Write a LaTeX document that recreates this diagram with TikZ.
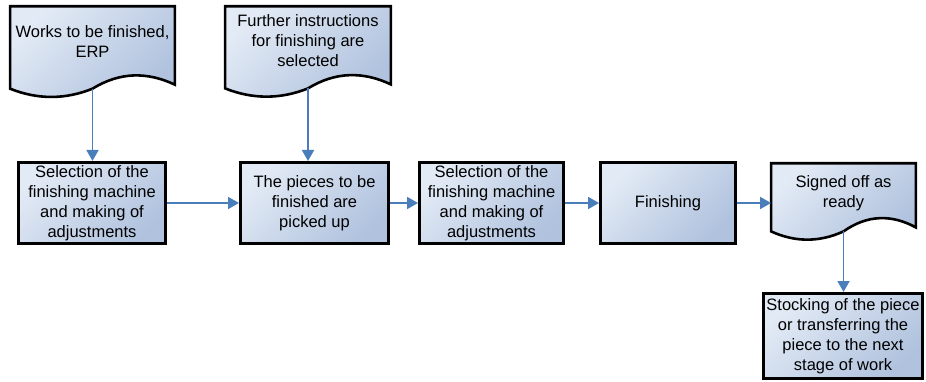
\documentclass[tikz,border=0pt]{standalone}
\usepackage{fontspec}
\setmainfont{Liberation Sans}
\usetikzlibrary{arrows.meta,calc}
\pgfdeclarelayer{background}
\pgfsetlayers{background,main}
\definecolor{boxlight}{RGB}{226,234,245}
\definecolor{boxdark}{RGB}{176,194,222}
\definecolor{flow}{RGB}{74,126,187}
\tikzset{
  txt/.style={font=\fontsize{16.5}{20}\selectfont, align=center, inner sep=0pt},
  shadefill/.style={top color=boxlight, bottom color=boxdark, shading angle=45},
  stepbox/.style={txt, rectangle, draw=black, line width=2.6pt, shadefill},
  doc/.style={txt, rectangle, anchor=north},
  docbody/.style={draw=black, line width=2.6pt, line join=miter, shadefill},
  flowarrow/.style={draw=flow, line width=1.8pt, -{Triangle[length=11pt,width=12pt]}},
}
% Document symbol behind a text node: straight top and sides, wavy bottom.
% #1 = node name, #2 = drop from the node's bottom to the wave's centre line
\newcommand\docshape[2]{%
  \coordinate (#1-w) at ($(#1.south)+(0,#2)$);
  \begin{pgfonlayer}{background}
  \path[docbody] (#1.north west) -- (#1.north east) -- ($(#1.south east)+(0,#2-4)$)
    .. controls ($(#1.south east)!0.333!(#1.south)+(0,#2-17)$)
            and ($(#1.south east)!0.667!(#1.south)+(0,#2-17)$) .. (#1-w)
    .. controls ($(#1.south)!0.333!(#1.south west)+(0,#2+11)$)
            and ($(#1.south)!0.667!(#1.south west)+(0,#2+11)$) .. ($(#1.south west)+(0,#2)$)
    -- cycle;
  \end{pgfonlayer}}
\begin{document}
\begin{tikzpicture}[x=1pt,y=-1pt]
\useasboundingbox (0,0) rectangle (926,382);

% documents
\node[doc, minimum width=164.4pt, minimum height=71pt] (d1) at (92.5,6.3)
  {Works to be finished,\\ERP};
\docshape{d1}{11}
\node[doc, minimum width=165.4pt, minimum height=69pt] (d2) at (308,6.3)
  {Further instructions\\for finishing are\\selected};
\docshape{d2}{12.7}
\node[doc, minimum width=144.4pt, minimum height=60pt] (d3) at (843.5,163.3)
  {Signed off as\\ready};
\docshape{d3}{7.7}

% process steps
\node[stepbox, minimum width=147.4pt, minimum height=81.4pt] (b1) at (92,203)
  {Selection of the\\finishing machine\\and making of\\adjustments};
\node[stepbox, minimum width=148.4pt, minimum height=81.4pt] (b2) at (314.5,203)
  {The pieces to be\\finished are\\picked up};
\node[stepbox, minimum width=144.4pt, minimum height=81.4pt] (b3) at (491.5,203)
  {Selection of the\\finishing machine\\and making of\\adjustments};
\node[stepbox, minimum width=135.4pt, minimum height=81.4pt] (b4) at (668,203)
  {Finishing};
\node[stepbox, minimum width=159.4pt, minimum height=85.4pt] (b5) at (843,336)
  {Stocking of the piece\\or transferring the\\piece to the next\\stage of work};

% connectors
\draw[flowarrow] (d1-w) -- (d1-w |- b1.north);
\draw[flowarrow] (d2-w) -- (d2-w |- b2.north);
\draw[flowarrow] (b1.east) -- (b2.west);
\draw[flowarrow] (b2.east) -- (b3.west);
\draw[flowarrow] (b3.east) -- (b4.west);
\draw[flowarrow] (b4.east) -- (b4.east -| d3.west);
\draw[flowarrow] (d3-w) -- (d3-w |- b5.north);
\end{tikzpicture}
\end{document}
